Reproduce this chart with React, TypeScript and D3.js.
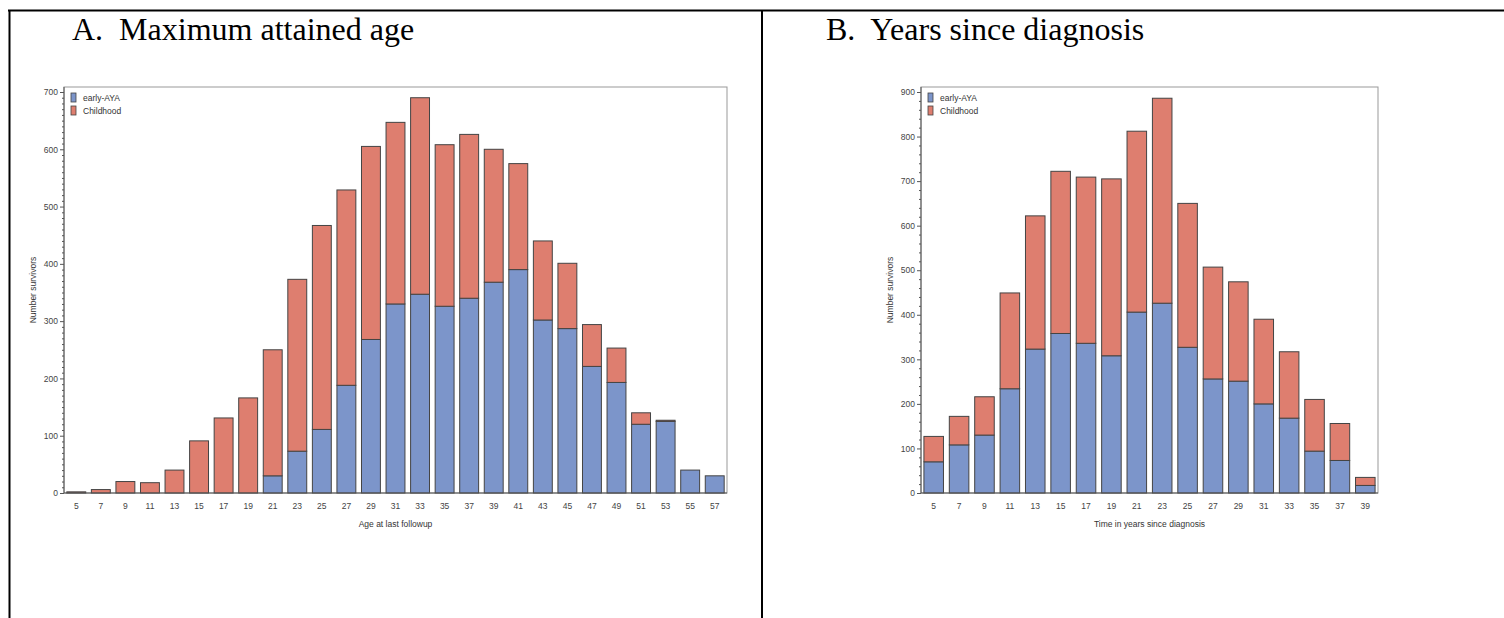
import { useRef, useEffect } from "react";
import * as d3 from "d3";

// Panel A: maximum attained age
const ageCats = [5, 7, 9, 11, 13, 15, 17, 19, 21, 23, 25, 27, 29, 31, 33, 35, 37, 39, 41, 43, 45, 47, 49, 51, 53, 55, 57];
const ageEarlyAYA = [0, 0, 0, 0, 0, 0, 0, 0, 30, 73, 111, 188, 268, 330, 347, 326, 340, 368, 390, 302, 287, 221, 193, 120, 125, 40, 30];
const ageChildhood = [2, 6, 20, 18, 40, 91, 131, 166, 220, 300, 356, 341, 337, 317, 343, 282, 286, 232, 185, 138, 114, 73, 60, 20, 2, 0, 0];
const ageYTicks = [0, 100, 200, 300, 400, 500, 600, 700];

// Panel B: years since diagnosis
const yrsCats = [5, 7, 9, 11, 13, 15, 17, 19, 21, 23, 25, 27, 29, 31, 33, 35, 37, 39];
const yrsEarlyAYA = [70, 108, 130, 234, 323, 358, 336, 308, 406, 426, 327, 256, 251, 200, 168, 94, 73, 17];
const yrsChildhood = [57, 64, 86, 215, 299, 364, 373, 397, 406, 460, 323, 251, 223, 190, 149, 116, 83, 18];
const yrsYTicks = [0, 100, 200, 300, 400, 500, 600, 700, 800, 900];

const seriesNames = ["early-AYA", "Childhood"];
const BLUE = "#7C95CA";
const RED = "#DE7E6F";
const SANS = "'Liberation Sans', Arial, sans-serif";
const SERIF = "'Liberation Serif', 'Times New Roman', serif";

type PanelProps = {
  cats: number[];
  early: number[];
  child: number[];
  yTicks: number[];
  minorStep: number;
  left: number;
  right: number;
  xLabel: string;
};

const TOP = 87;
const BASE = 493;
const TOPTICK = 92;

function Panel({ cats, early, child, yTicks, minorStep, left, right, xLabel }: PanelProps) {
  const yAxisRef = useRef<SVGGElement>(null);
  const xAxisRef = useRef<SVGGElement>(null);

  const yMax = yTicks[yTicks.length - 1];
  const x = d3
    .scaleBand<number>()
    .domain(cats)
    .range([left, right])
    .paddingInner(0.23)
    .paddingOuter(0.115);
  const y = d3.scaleLinear().domain([0, yMax]).range([BASE, TOPTICK]);

  useEffect(() => {
    const gy = d3.select(yAxisRef.current);
    gy.selectAll("*").remove();
    const minor = d3.range(0, yMax + 1, minorStep).filter((v) => v % 100 !== 0);
    gy.append("g")
      .call(d3.axisLeft(y).tickValues(minor).tickSize(2).tickFormat(() => ""))
      .call((g) => g.select(".domain").remove())
      .selectAll("line")
      .attr("stroke", "#555");
    const major = gy
      .append("g")
      .call(d3.axisLeft(y).tickValues(yTicks).tickSize(4).tickSizeOuter(0).tickPadding(2));
    major.select(".domain").remove();
    major.selectAll("line").attr("stroke", "#555");
    major
      .selectAll("text")
      .attr("font-family", SANS)
      .attr("font-size", 8.5)
      .attr("fill", "#444");

    const gx = d3.select(xAxisRef.current);
    gx.selectAll("*").remove();
    const xa = gx.append("g").call(d3.axisBottom(x).tickSize(0).tickPadding(10));
    xa.select(".domain").remove();
    xa.selectAll("text")
      .attr("font-family", SANS)
      .attr("font-size", 8.5)
      .attr("fill", "#444");
  });

  const bw = x.bandwidth();
  const bars = cats.map((c, i) => {
    const x0 = x(c) as number;
    const e = early[i];
    const t = early[i] + child[i];
    return (
      <g key={c}>
        {e > 0 && (
          <rect x={x0} y={y(e)} width={bw} height={y(0) - y(e)} fill={BLUE} stroke="#444" strokeWidth={1} />
        )}
        {child[i] > 0 && (
          <rect x={x0} y={y(t)} width={bw} height={y(e) - y(t)} fill={RED} stroke="#444" strokeWidth={1} />
        )}
      </g>
    );
  });

  const cx = (left + right) / 2;
  return (
    <g>
      <rect x={left} y={TOP} width={right - left} height={BASE - TOP} fill="none" stroke="#999" strokeWidth={1} />
      {bars}
      <line x1={left} x2={left} y1={TOP} y2={BASE} stroke="#555" />
      <line x1={left} x2={right} y1={BASE} y2={BASE} stroke="#555" />
      <g ref={yAxisRef} transform={`translate(${left},0)`} />
      <g ref={xAxisRef} transform={`translate(0,${BASE})`} />
      <text x={cx} y={527} textAnchor="middle" fontFamily={SANS} fontSize={8.5} fill="#333">
        {xLabel}
      </text>
      <text
        transform={`translate(${left - 28},${(TOP + BASE) / 2}) rotate(-90)`}
        textAnchor="middle"
        fontFamily={SANS}
        fontSize={8.5}
        fill="#333"
      >
        Number survivors
      </text>
      {seriesNames.map((s, i) => (
        <g key={s} transform={`translate(${left + 7},${93 + i * 13})`}>
          <rect x={0} y={0} width={5} height={9} fill={i === 0 ? BLUE : RED} stroke="#444" strokeWidth={0.8} />
          <text x={12} y={7.5} fontFamily={SANS} fontSize={8.5} fill="#333">
            {s}
          </text>
        </g>
      ))}
    </g>
  );
}

export default function App() {
  return (
    <svg
      width={1504}
      height={618}
      style={{ position: "absolute", left: 0, top: 0, background: "#fff" }}
    >
      <line x1={8} x2={1504} y1={10.5} y2={10.5} stroke="#000" strokeWidth={2} />
      <line x1={9.5} x2={9.5} y1={10} y2={618} stroke="#000" strokeWidth={2} />
      <line x1={762} x2={762} y1={10} y2={618} stroke="#000" strokeWidth={2} />
      <text x={72} y={40} fontFamily={SERIF} fontSize={32} fill="#000" style={{ whiteSpace: "pre" }}>
        {"A.  Maximum attained age"}
      </text>
      <text x={826} y={40} fontFamily={SERIF} fontSize={32} fill="#000" style={{ whiteSpace: "pre" }}>
        {"B.  Years since diagnosis"}
      </text>
      <Panel
        cats={ageCats}
        early={ageEarlyAYA}
        child={ageChildhood}
        yTicks={ageYTicks}
        minorStep={10}
        left={64}
        right={727}
        xLabel="Age at last followup"
      />
      <Panel
        cats={yrsCats}
        early={yrsEarlyAYA}
        child={yrsChildhood}
        yTicks={yrsYTicks}
        minorStep={20}
        left={921}
        right={1378}
        xLabel="Time in years since diagnosis"
      />
    </svg>
  );
}
